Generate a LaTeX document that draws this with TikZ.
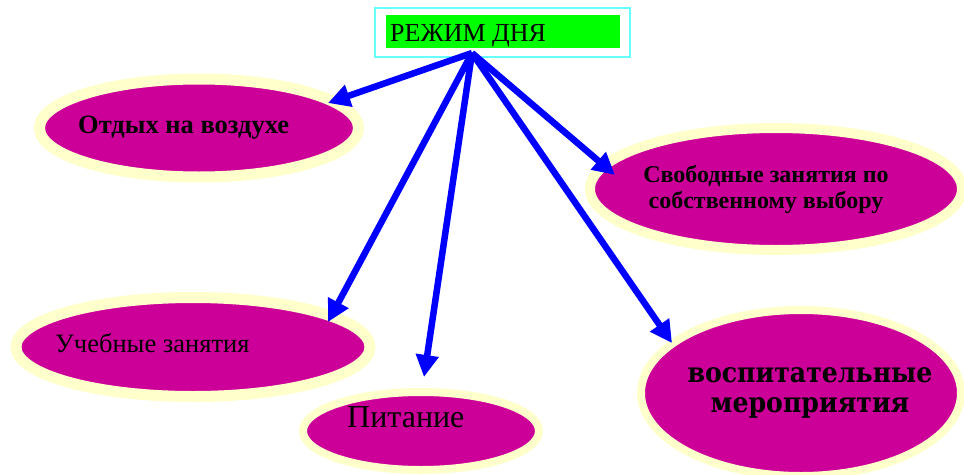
\documentclass[tikz,border=0pt]{standalone}
\usepackage{fontspec}
\setmainfont{Liberation Serif}
\newfontfamily\heavyfont{DejaVu Serif Condensed}
\usetikzlibrary{shapes.geometric,arrows.meta}
\definecolor{mag}{HTML}{CC0099}
\definecolor{halo}{HTML}{FFFFCC}
\definecolor{cyanedge}{HTML}{66FFFF}
\definecolor{lime}{HTML}{00FF00}
\definecolor{arrblue}{HTML}{0000FF}
\begin{document}
\begin{tikzpicture}[x=1pt,y=-1pt,
  blob/.style={ellipse, fill=mag, draw=halo, inner sep=0pt},
  arr/.style={draw=arrblue, line width=6.5pt, -{Triangle[length=22pt,width=22pt]}},
  lbl/.style={inner sep=0pt, text=black}]
\useasboundingbox (0,0) rectangle (964,474);
% top box
\node[draw=cyanedge, line width=2pt, minimum width=255pt, minimum height=49pt, inner sep=0pt] (frame) at (502.5,32.5) {};
\node[fill=lime, minimum width=234pt, minimum height=33pt, inner sep=0pt] (head) at (503,31.5) {};
\node[lbl, anchor=base west, font=\fontsize{26}{30}\selectfont] (headtext) at (390,41) {РЕЖИМ ДНЯ};
% ellipses
\node[blob, line width=11pt, minimum width=319pt, minimum height=98pt] (e1) at (199,128) {};
\node[blob, line width=10pt, minimum width=372pt, minimum height=122pt] (e2) at (776,189) {};
\node[blob, line width=11pt, minimum width=354pt, minimum height=99pt] (e3) at (193,347) {};
\node[blob, line width=8pt, minimum width=236pt, minimum height=78pt] (e4) at (421,431) {};
\node[blob, line width=8pt, minimum width=320pt, minimum height=166pt] (e5) at (801,393) {};
% labels
\node[lbl, anchor=base west, font=\bfseries\fontsize{26.5}{30}\selectfont] (t1) at (78,133) {Отдых на воздухе};
\node[lbl, anchor=base, align=center, font=\bfseries\fontsize{24}{26}\selectfont] (t2) at (766,208) {Свободные занятия по\\собственному выбору};
\node[lbl, anchor=base west, font=\fontsize{26.5}{30}\selectfont] (t3) at (55,352) {Учебные занятия};
\node[lbl, anchor=base west, font=\fontsize{32}{36}\selectfont] (t4) at (347,427) {Питание};
\node[lbl, anchor=base, align=center, font=\heavyfont\bfseries\fontsize{28}{30}\selectfont] (t5) at (810,412) {воспитательные\\мероприятия};
% arrows
\coordinate (src) at (472,53);
\coordinate (a1) at (328,103);
\coordinate (a2) at (615,175);
\coordinate (a3) at (328,322);
\coordinate (a4) at (424,377);
\coordinate (a5) at (672,343);
\draw[arr] (src) -- (a1);
\draw[arr] (src) -- (a2);
\draw[arr] (src) -- (a3);
\draw[arr] (src) -- (a4);
\draw[arr] (src) -- (a5);
\end{tikzpicture}
\end{document}
